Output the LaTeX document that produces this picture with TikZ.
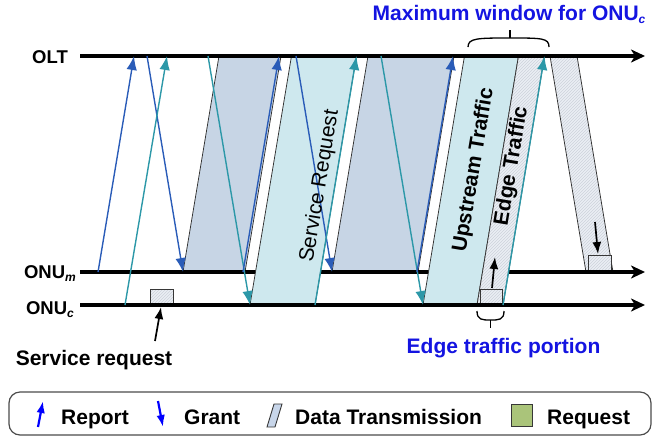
\documentclass[tikz,border=0pt]{standalone}
\usepackage{fontspec}
\setmainfont{Liberation Sans}
\usetikzlibrary{arrows.meta,patterns}

\definecolor{mblue}{RGB}{42,92,184}
\definecolor{cteal}{RGB}{44,152,168}
\definecolor{bluefill}{RGB}{199,213,229}
\definecolor{cyanfill}{RGB}{206,232,238}
\definecolor{hatchbg}{RGB}{235,239,245}
\definecolor{hatchln}{RGB}{205,210,219}
\definecolor{edgegray}{RGB}{55,55,55}
\definecolor{labelblue}{RGB}{20,20,225}
\definecolor{keyblue}{RGB}{0,0,255}
\definecolor{keygreen}{RGB}{170,196,122}
\definecolor{keydata}{RGB}{200,214,234}

\newcommand{\subx}[1]{\raisebox{-0.35ex}{\fontsize{12}{12}\selectfont\itshape #1}}

\tikzset{
  timeline/.style={line width=3.2pt, -{Stealth[length=14pt,width=13pt,inset=4pt]}},
  mline/.style={line width=1.4pt, draw=mblue, -{Latex[length=14pt,width=10.5pt]}},
  cline/.style={line width=1.4pt, draw=cteal, -{Latex[length=14pt,width=10.5pt]}},
  blkarrow/.style={line width=1.7pt, -{Latex[length=12pt,width=9pt]}},
  bluedata/.style={fill=bluefill, draw=edgegray, line width=0.8pt},
  cyandata/.style={fill=cyanfill, draw=edgegray, line width=0.8pt},
  hatchdata/.style={preaction={fill=hatchbg}, pattern=north east lines, pattern color=hatchln, draw=edgegray, line width=0.8pt},
  reqbox/.style={preaction={fill=hatchbg}, pattern=north east lines, pattern color=hatchln, draw=edgegray, line width=0.9pt},
  axislbl/.style={font=\fontsize{18.5}{22}\selectfont\bfseries, inner sep=0pt},
  biglbl/.style={font=\fontsize{21}{25}\selectfont\bfseries, inner sep=0pt},
  slantlbl/.style={font=\fontsize{21}{25}\selectfont, inner sep=0pt, rotate=80.54},
  brace/.style={line width=1.3pt},
  keyarrow/.style={line width=2.2pt, draw=keyblue, -{Latex[length=12pt,width=8.5pt]}},
}

\begin{document}
\begin{tikzpicture}[x=1pt,y=-1pt]
\useasboundingbox (0,0) rectangle (668,437);

% ---- time axes end points
\coordinate (oltS) at (80,56);   \coordinate (oltE) at (645,56);
\coordinate (omS)  at (80,272);  \coordinate (omE)  at (645,272);
\coordinate (ocS)  at (80,305);  \coordinate (ocE)  at (645,305);

% ---- ONU_m data bursts and the downstream burst (sit on the ONU_m axis)
\coordinate (dm1a) at (183,272); \coordinate (dm1b) at (245,272);
\coordinate (dm1c) at (281,56);  \coordinate (dm1d) at (219,56);
\coordinate (dm2a) at (332,272); \coordinate (dm2b) at (418,272);
\coordinate (dm2c) at (454,56);  \coordinate (dm2d) at (368,56);
\coordinate (dsa) at (550,56);   \coordinate (dsb) at (577,56);
\coordinate (dsc) at (613,272);  \coordinate (dsd) at (586,272);

\draw[bluedata] (dm1a) -- (dm1b) -- (dm1c) -- (dm1d) -- cycle;
\draw[bluedata] (dm2a) -- (dm2b) -- (dm2c) -- (dm2d) -- cycle;
\draw[hatchdata] (dsa) -- (dsb) -- (dsc) -- (dsd) -- cycle;

% request slot at the end of the downstream burst
\coordinate (rqmA) at (588,255); \coordinate (rqmB) at (611,272);
\draw[reqbox] (rqmA) rectangle (rqmB);

% ONU_m axis (covered below by the ONU_c bursts)
\draw[timeline] (omS) -- (omE);

% ---- ONU_c data bursts (drawn over the ONU_m axis)
\coordinate (dc1a) at (250,305); \coordinate (dc1b) at (315,305);
\coordinate (dc1c) at (356.5,56); \coordinate (dc1d) at (291.5,56);
\coordinate (dc2a) at (423,305); \coordinate (dc2b) at (477,305);
\coordinate (dc2c) at (518.5,56); \coordinate (dc2d) at (464.5,56);
\coordinate (ega) at (477,305);  \coordinate (egb) at (503,305);
\coordinate (egc) at (544.5,56); \coordinate (egd) at (518.5,56);

\draw[cyandata] (dc1a) -- (dc1b) -- (dc1c) -- (dc1d) -- cycle;
\draw[cyandata] (dc2a) -- (dc2b) -- (dc2c) -- (dc2d) -- cycle;
\draw[hatchdata] (ega) -- (egb) -- (egc) -- (egd) -- cycle;

% request slots on the ONU_c axis
\coordinate (rqsA) at (150,289); \coordinate (rqsB) at (173,305);
\coordinate (rqeA) at (480,289); \coordinate (rqeB) at (502,305);
\draw[reqbox] (rqsA) rectangle (rqsB);
\draw[reqbox] (rqeA) rectangle (rqeB);

% OLT and ONU_c axes
\draw[timeline] (oltS) -- (oltE);
\draw[timeline] (ocS) -- (ocE);

% ---- reports and grants
\coordinate (rm1a) at (98,272);  \coordinate (rm1b) at (134,56);
\coordinate (gm1a) at (147,56);  \coordinate (gm1b) at (183,272);
\coordinate (rc1a) at (125,305); \coordinate (rc1b) at (167,56);
\coordinate (gc1a) at (208,56);  \coordinate (gc1b) at (250,305);
\coordinate (rm2a) at (243,272); \coordinate (rm2b) at (279,56);
\coordinate (gm2a) at (296,56);  \coordinate (gm2b) at (332,272);
\coordinate (rc2a) at (315,305); \coordinate (rc2b) at (356.5,56);
\coordinate (gc2a) at (381,56);  \coordinate (gc2b) at (423,305);
\coordinate (rm3a) at (417,272); \coordinate (rm3b) at (453,56);
\coordinate (rc3a) at (503,305); \coordinate (rc3b) at (544.5,56);

\draw[mline] (rm1a) -- (rm1b);
\draw[mline] (gm1a) -- (gm1b);
\draw[cline] (rc1a) -- (rc1b);
\draw[cline] (gc1a) -- (gc1b);
\draw[mline] (rm2a) -- (rm2b);
\draw[mline] (gm2a) -- (gm2b);
\draw[cline] (rc2a) -- (rc2b);
\draw[cline] (gc2a) -- (gc2b);
\draw[mline] (rm3a) -- (rm3b);
\draw[cline] (rc3a) -- (rc3b);

% ---- small black arrows at the request slots
\coordinate (upA) at (492,288); \coordinate (upB) at (495,257);
\coordinate (dnA) at (595,222); \coordinate (dnB) at (598,254);
\draw[blkarrow] (upA) -- (upB);
\draw[blkarrow] (dnA) -- (dnB);

% ---- axis labels
\node[axislbl, anchor=base east] (olt) at (68,63) {OLT};
\node[axislbl, anchor=base east] (onum) at (76,278) {ONU\subx{m}};
\node[axislbl, anchor=base east] (onuc) at (74,314) {ONU\subx{c}};

% ---- slanted labels inside the bursts
\node[slantlbl] (svc) at (320,186) {Service Request};
\node[slantlbl, font=\fontsize{21}{25}\selectfont\bfseries] (ups) at (474,170) {Upstream Traffic};
\node[slantlbl, font=\fontsize{21}{25}\selectfont\bfseries] (edg) at (512,166) {Edge Traffic};

% ---- service request annotation
\node[biglbl, anchor=base] (sreq) at (94,365) {Service request};
\coordinate (srA) at (155,341); \coordinate (srB) at (161,307);
\draw[blkarrow] (srA) -- (srB);

% ---- maximum window brace
\coordinate (mwL) at (468,47); \coordinate (mwR) at (549,47);
\coordinate (mwM) at (510,38); \coordinate (mwT) at (510,30);
\draw[brace] (mwL) .. controls (468,38) and (478,38) .. (mwM)
             .. controls (542,38) and (549,38) .. (mwR);
\draw[brace] (mwM) -- (mwT);
\node[biglbl, text=labelblue, anchor=base] (mw) at (509,20) {Maximum window for ONU\subx{c}};

% ---- edge traffic portion brace
\coordinate (etL) at (477,311); \coordinate (etR) at (504,311);
\coordinate (etM) at (490.5,320); \coordinate (etB) at (490.5,328);
\draw[brace] (etL) .. controls (477,320) and (482,320) .. (etM)
             .. controls (499,320) and (504,320) .. (etR);
\draw[brace] (etM) -- (etB);
\node[biglbl, text=labelblue, anchor=base] (etp) at (503.5,353) {Edge traffic portion};

% ---- key
\draw[line width=1.2pt, draw=black!70, rounded corners=11pt] (9,392) rectangle (651,435);
\coordinate (kRa) at (38,427); \coordinate (kRb) at (43,401);
\draw[keyarrow] (kRa) -- (kRb);
\node[biglbl, anchor=base west] (kRep) at (61,424) {Report};
\coordinate (kGa) at (158,401); \coordinate (kGb) at (163,427);
\draw[keyarrow] (kGa) -- (kGb);
\node[biglbl, anchor=base west] (kGr) at (184,424) {Grant};
\coordinate (kD1) at (267,427); \coordinate (kD2) at (275,427);
\coordinate (kD3) at (282,404); \coordinate (kD4) at (274,404);
\draw[fill=keydata, draw=edgegray, line width=0.9pt] (kD1) -- (kD2) -- (kD3) -- (kD4) -- cycle;
\node[biglbl, anchor=base west] (kDt) at (295,424) {Data Transmission};
\coordinate (kQa) at (511,404); \coordinate (kQb) at (532,426);
\draw[fill=keygreen, draw=edgegray, line width=1pt] (kQa) rectangle (kQb);
\node[biglbl, anchor=base west] (kRq) at (547,424) {Request};
\end{tikzpicture}
\end{document}
